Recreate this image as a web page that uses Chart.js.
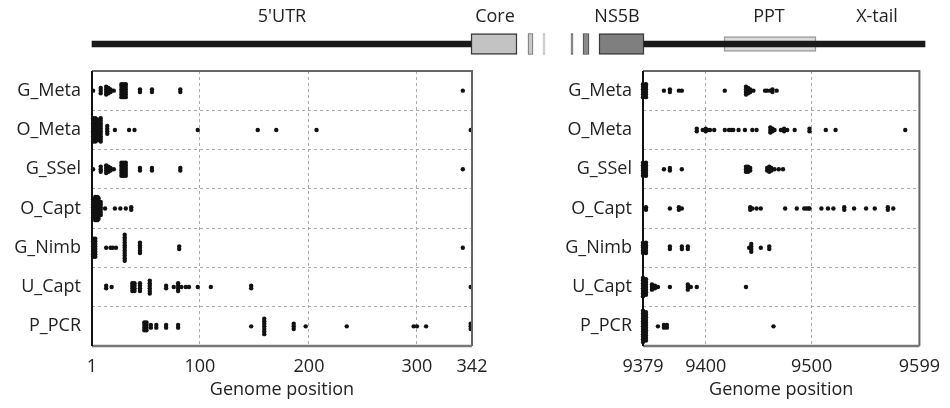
<!DOCTYPE html>
<html>
<head>
<meta charset="utf-8">
<script src="https://cdn.jsdelivr.net/npm/chart.js"></script>
<style>
  body { margin: 0; background: #fff; }
  #wrap { position: relative; width: 950px; height: 408px; overflow: hidden; }
  canvas { position: absolute; top: 0; }
  #map { left: 0; }
  #utr { left: 0; }
  #tail { left: 500px; }
</style>
</head>
<body>
<div id="wrap">
  <canvas id="utr" width="500" height="408"></canvas>
  <canvas id="tail" width="450" height="408"></canvas>
  <canvas id="map" width="950" height="62"></canvas>
</div>
<script>
// samples, top to bottom
const rowLabels = ['G_Meta', 'O_Meta', 'G_SSel', 'O_Capt', 'G_Nimb', 'U_Capt', 'P_PCR'];
const utrTicks = [1, 100, 200, 300, 342];
const tailTicks = [9379, 9400, 9500, 9599];

// [genome position, number of reads stacked at that position]
const utrGMeta = [[2,1],[9,3],[14,4],[16,3],[18,2],[21,1],[28,6],[30,6],[32,6],[45,2],[56,2],[82,2],[335,1]];
const utrOMeta = [[2,10],[4,10],[6,9],[9,10],[15,4],[22,1],[35,1],[40,1],[98,1],[153,1],[170,1],[207,1],[341,1]];
const utrGSSel = [[2,1],[9,3],[14,4],[16,3],[18,2],[21,1],[28,6],[30,6],[32,6],[45,2],[56,2],[82,2],[335,1]];
const utrOCapt = [[2,8],[4,10],[6,10],[7,9],[9,6],[13,1],[22,1],[27,1],[32,1],[37,2]];
const utrGNimb = [[2,8],[4,8],[14,1],[18,1],[20,1],[23,1],[31,11],[45,5],[81,2],[335,1]];
const utrUCapt = [[14,2],[19,1],[38,4],[40,4],[45,4],[54,6],[69,2],[76,1],[80,4],[83,1],[87,1],[90,1],[98,1],[110,1],[147,2],[341,1]];
const utrPPCR = [[49,4],[51,4],[55,2],[60,2],[69,2],[80,2],[147,1],[159,7],[186,3],[197,1],[235,1],[297,1],[300,1],[307,1],[341,3]];

const tailGMeta = [[9379,6],[9380,6],[9386,1],[9388,2],[9391,1],[9392,1],[9418,1],[9438,4],[9440,3],[9442,2],[9445,1],[9456,1],[9458,1],[9461,1],[9463,2],[9467,1]];
const tailOMeta = [[9397,2],[9399,1],[9400,2],[9402,1],[9404,1],[9408,1],[9418,1],[9422,1],[9424,1],[9426,1],[9431,1],[9437,1],[9444,1],[9448,1],[9461,3],[9463,2],[9465,1],[9471,1],[9474,2],[9475,1],[9477,1],[9484,1],[9498,2],[9513,1],[9522,1],[9586,1]];
const tailGSSel = [[9379,6],[9380,6],[9386,1],[9388,2],[9392,1],[9438,3],[9440,3],[9442,2],[9458,2],[9460,3],[9462,2],[9465,1],[9469,1],[9473,1]];
const tailOCapt = [[9380,2],[9388,1],[9391,2],[9392,1],[9442,2],[9444,1],[9448,1],[9452,1],[9475,1],[9486,1],[9493,1],[9495,1],[9497,1],[9498,1],[9509,1],[9515,1],[9520,1],[9530,2],[9539,1],[9550,1],[9558,1],[9570,2],[9575,1]];
const tailGNimb = [[9379,5],[9380,5],[9388,2],[9392,2],[9394,2],[9441,1],[9443,4],[9452,1],[9460,2]];
const tailUCapt = [[9379,8],[9380,7],[9382,3],[9383,2],[9384,1],[9388,1],[9394,3],[9395,1],[9397,1],[9438,1]];
const tailPPCR = [[9379,13],[9380,12],[9384,1],[9386,2],[9387,2],[9464,1]];

const utrSites = [utrGMeta, utrOMeta, utrGSSel, utrOCapt, utrGNimb, utrUCapt, utrPPCR];
const tailSites = [tailGMeta, tailOMeta, tailGSSel, tailOCapt, tailGNimb, tailUCapt, tailPPCR];

// genome map (schematic, not to scale)
const mapNames = ["5'UTR", 'Core', 'NS5B', 'PPT', 'X-tail'];
const mapNameAt = [282, 495, 617, 769, 877];
const mapBackbone = [[92, 471], [644, 925]];
const mapBoxes = [[471, 517], [599, 644]];
const mapMarks = [[528, 533], [543, 545], [571, 573], [583, 589]];
const mapPPT = [[724, 816]];

const font = { family: 'Open Sans', size: 18 };
const STACK = 0.066; // vertical offset between stacked reads, in row units

// axis drawn in segments between labelled stops, as in the original figure
class SegmentedScale extends Chart.LinearScale {
  getPixelForValue(value) {
    const stops = this.options.stops;
    let i = 1;
    while (i < stops.length - 1 && value > stops[i][0]) i++;
    const [v0, f0] = stops[i - 1];
    const [v1, f1] = stops[i];
    return this.getPixelForDecimal(f0 + (value - v0) / (v1 - v0) * (f1 - f0));
  }
  getValueForPixel(pixel) {
    const stops = this.options.stops;
    const d = this.getDecimalForPixel(pixel);
    let i = 1;
    while (i < stops.length - 1 && d > stops[i][1]) i++;
    const [v0, f0] = stops[i - 1];
    const [v1, f1] = stops[i];
    return v0 + (d - f0) / (f1 - f0) * (v1 - v0);
  }
}
SegmentedScale.id = 'segmented';
SegmentedScale.defaults = {};
Chart.register(SegmentedScale);

function toPoints(sites) {
  const pts = [];
  sites.forEach((list, row) => {
    list.forEach(([pos, n]) => {
      for (let k = 0; k < n; k++) {
        pts.push({ x: pos, y: row + (k - (n - 1) / 2) * STACK });
      }
    });
  });
  return pts;
}

const frame = {
  id: 'frame',
  afterDraw(chart) {
    const { ctx, chartArea: a } = chart;
    ctx.save();
    ctx.lineWidth = 2;
    ctx.strokeStyle = '#666';
    ctx.beginPath();
    ctx.moveTo(a.left, a.top);
    ctx.lineTo(a.right, a.top);
    ctx.lineTo(a.right, a.bottom);
    ctx.stroke();
    ctx.lineWidth = 2.5;
    ctx.strokeStyle = '#777';
    ctx.beginPath();
    ctx.moveTo(a.left, a.bottom);
    ctx.lineTo(a.right, a.bottom);
    ctx.stroke();
    ctx.lineWidth = 2;
    ctx.strokeStyle = '#111';
    ctx.beginPath();
    ctx.moveTo(a.left, a.top);
    ctx.lineTo(a.left, a.bottom);
    ctx.stroke();
    ctx.restore();
  }
};

function panel(id, sites, ticks, stops, padRight, yWidth) {
  const yTicks = [];
  for (let v = -0.5; v <= 6.5; v += 0.5) yTicks.push(v);
  const edge = v => v === ticks[0] || v === ticks[ticks.length - 1];
  return new Chart(document.getElementById(id), {
    type: 'scatter',
    data: {
      datasets: [{
        data: toPoints(sites),
        pointRadius: 2.2,
        pointHoverRadius: 2.2,
        backgroundColor: '#111',
        borderWidth: 0,
        clip: false
      }]
    },
    options: {
      responsive: false,
      animation: false,
      layout: { padding: { top: 71, right: padRight, left: 0, bottom: 0 } },
      plugins: { legend: { display: false }, tooltip: { enabled: false } },
      scales: {
        x: {
          type: 'segmented',
          stops: stops,
          min: ticks[0],
          max: ticks[ticks.length - 1],
          afterBuildTicks: s => { s.ticks = ticks.map(v => ({ value: v })); },
          afterFit: s => { s.height = 62; },
          grid: {
            color: c => (c.tick && edge(c.tick.value)) ? 'transparent' : '#aaa',
            drawTicks: false
          },
          border: { display: false, dash: [3, 3] },
          ticks: { color: '#222', font, padding: 10, autoSkip: false, maxRotation: 0, callback: v => String(v) },
          title: { display: true, text: 'Genome position', color: '#222', font, padding: { top: 0, bottom: 7 } }
        },
        y: {
          type: 'linear',
          reverse: true,
          min: -0.5,
          max: 6.5,
          afterBuildTicks: s => { s.ticks = yTicks.map(v => ({ value: v })); },
          afterFit: s => { s.width = yWidth; },
          grid: {
            color: c => (c.tick && !Number.isInteger(c.tick.value) && c.tick.value > -0.5 && c.tick.value < 6.5) ? '#aaa' : 'transparent',
            drawTicks: false
          },
          border: { display: false, dash: [3, 3] },
          ticks: {
            color: '#222', font, padding: 11, autoSkip: false,
            callback: v => Number.isInteger(v) ? rowLabels[v] : ''
          }
        }
      }
    },
    plugins: [frame]
  });
}

panel('utr', utrSites, utrTicks, [[1, 0], [100, 0.284], [200, 0.571], [300, 0.855], [342, 1]], 28, 92);
panel('tail', tailSites, tailTicks, [[9379, 0], [9400, 0.227], [9500, 0.61], [9599, 1]], 25, 143);

const mapLabels = {
  id: 'mapLabels',
  afterDraw(chart) {
    const { ctx, scales: { x } } = chart;
    ctx.save();
    ctx.font = '18px "Open Sans"';
    ctx.fillStyle = '#222';
    ctx.textAlign = 'center';
    ctx.textBaseline = 'middle';
    mapNames.forEach((t, i) => ctx.fillText(t, x.getPixelForValue(mapNameAt[i]), 17));
    ctx.restore();
  }
};

const seg = list => list.map(r => ({ x: r, y: 'genome' }));

new Chart(document.getElementById('map'), {
  type: 'bar',
  data: {
    labels: ['genome'],
    datasets: [
      { data: seg(mapBackbone), barThickness: 6, backgroundColor: '#1a1a1a', borderWidth: 0, grouped: false },
      { data: seg(mapBoxes), barThickness: 21, backgroundColor: ['#c3c3c3', '#7f7f7f'], borderColor: '#3a3a3a', borderWidth: 1.5, borderSkipped: false, grouped: false },
      { data: seg(mapMarks), barThickness: 21, backgroundColor: ['#c8c8c8', '#e2e2e2', '#7a7a7a', '#8a8a8a'], borderColor: ['#666', '#aaa', '#555', '#444'], borderWidth: 1, borderSkipped: false, grouped: false },
      { data: seg(mapPPT), barThickness: 15, backgroundColor: '#dcdcdc', borderColor: '#9a9a9a', borderWidth: 1.5, borderSkipped: false, grouped: false }
    ]
  },
  options: {
    indexAxis: 'y',
    responsive: false,
    animation: false,
    layout: { padding: { top: 26, left: 0, right: 0, bottom: 0 } },
    plugins: { legend: { display: false }, tooltip: { enabled: false } },
    scales: {
      x: { type: 'linear', min: 0, max: 950, display: false },
      y: { display: false }
    }
  },
  plugins: [mapLabels]
});
</script>
</body>
</html>
